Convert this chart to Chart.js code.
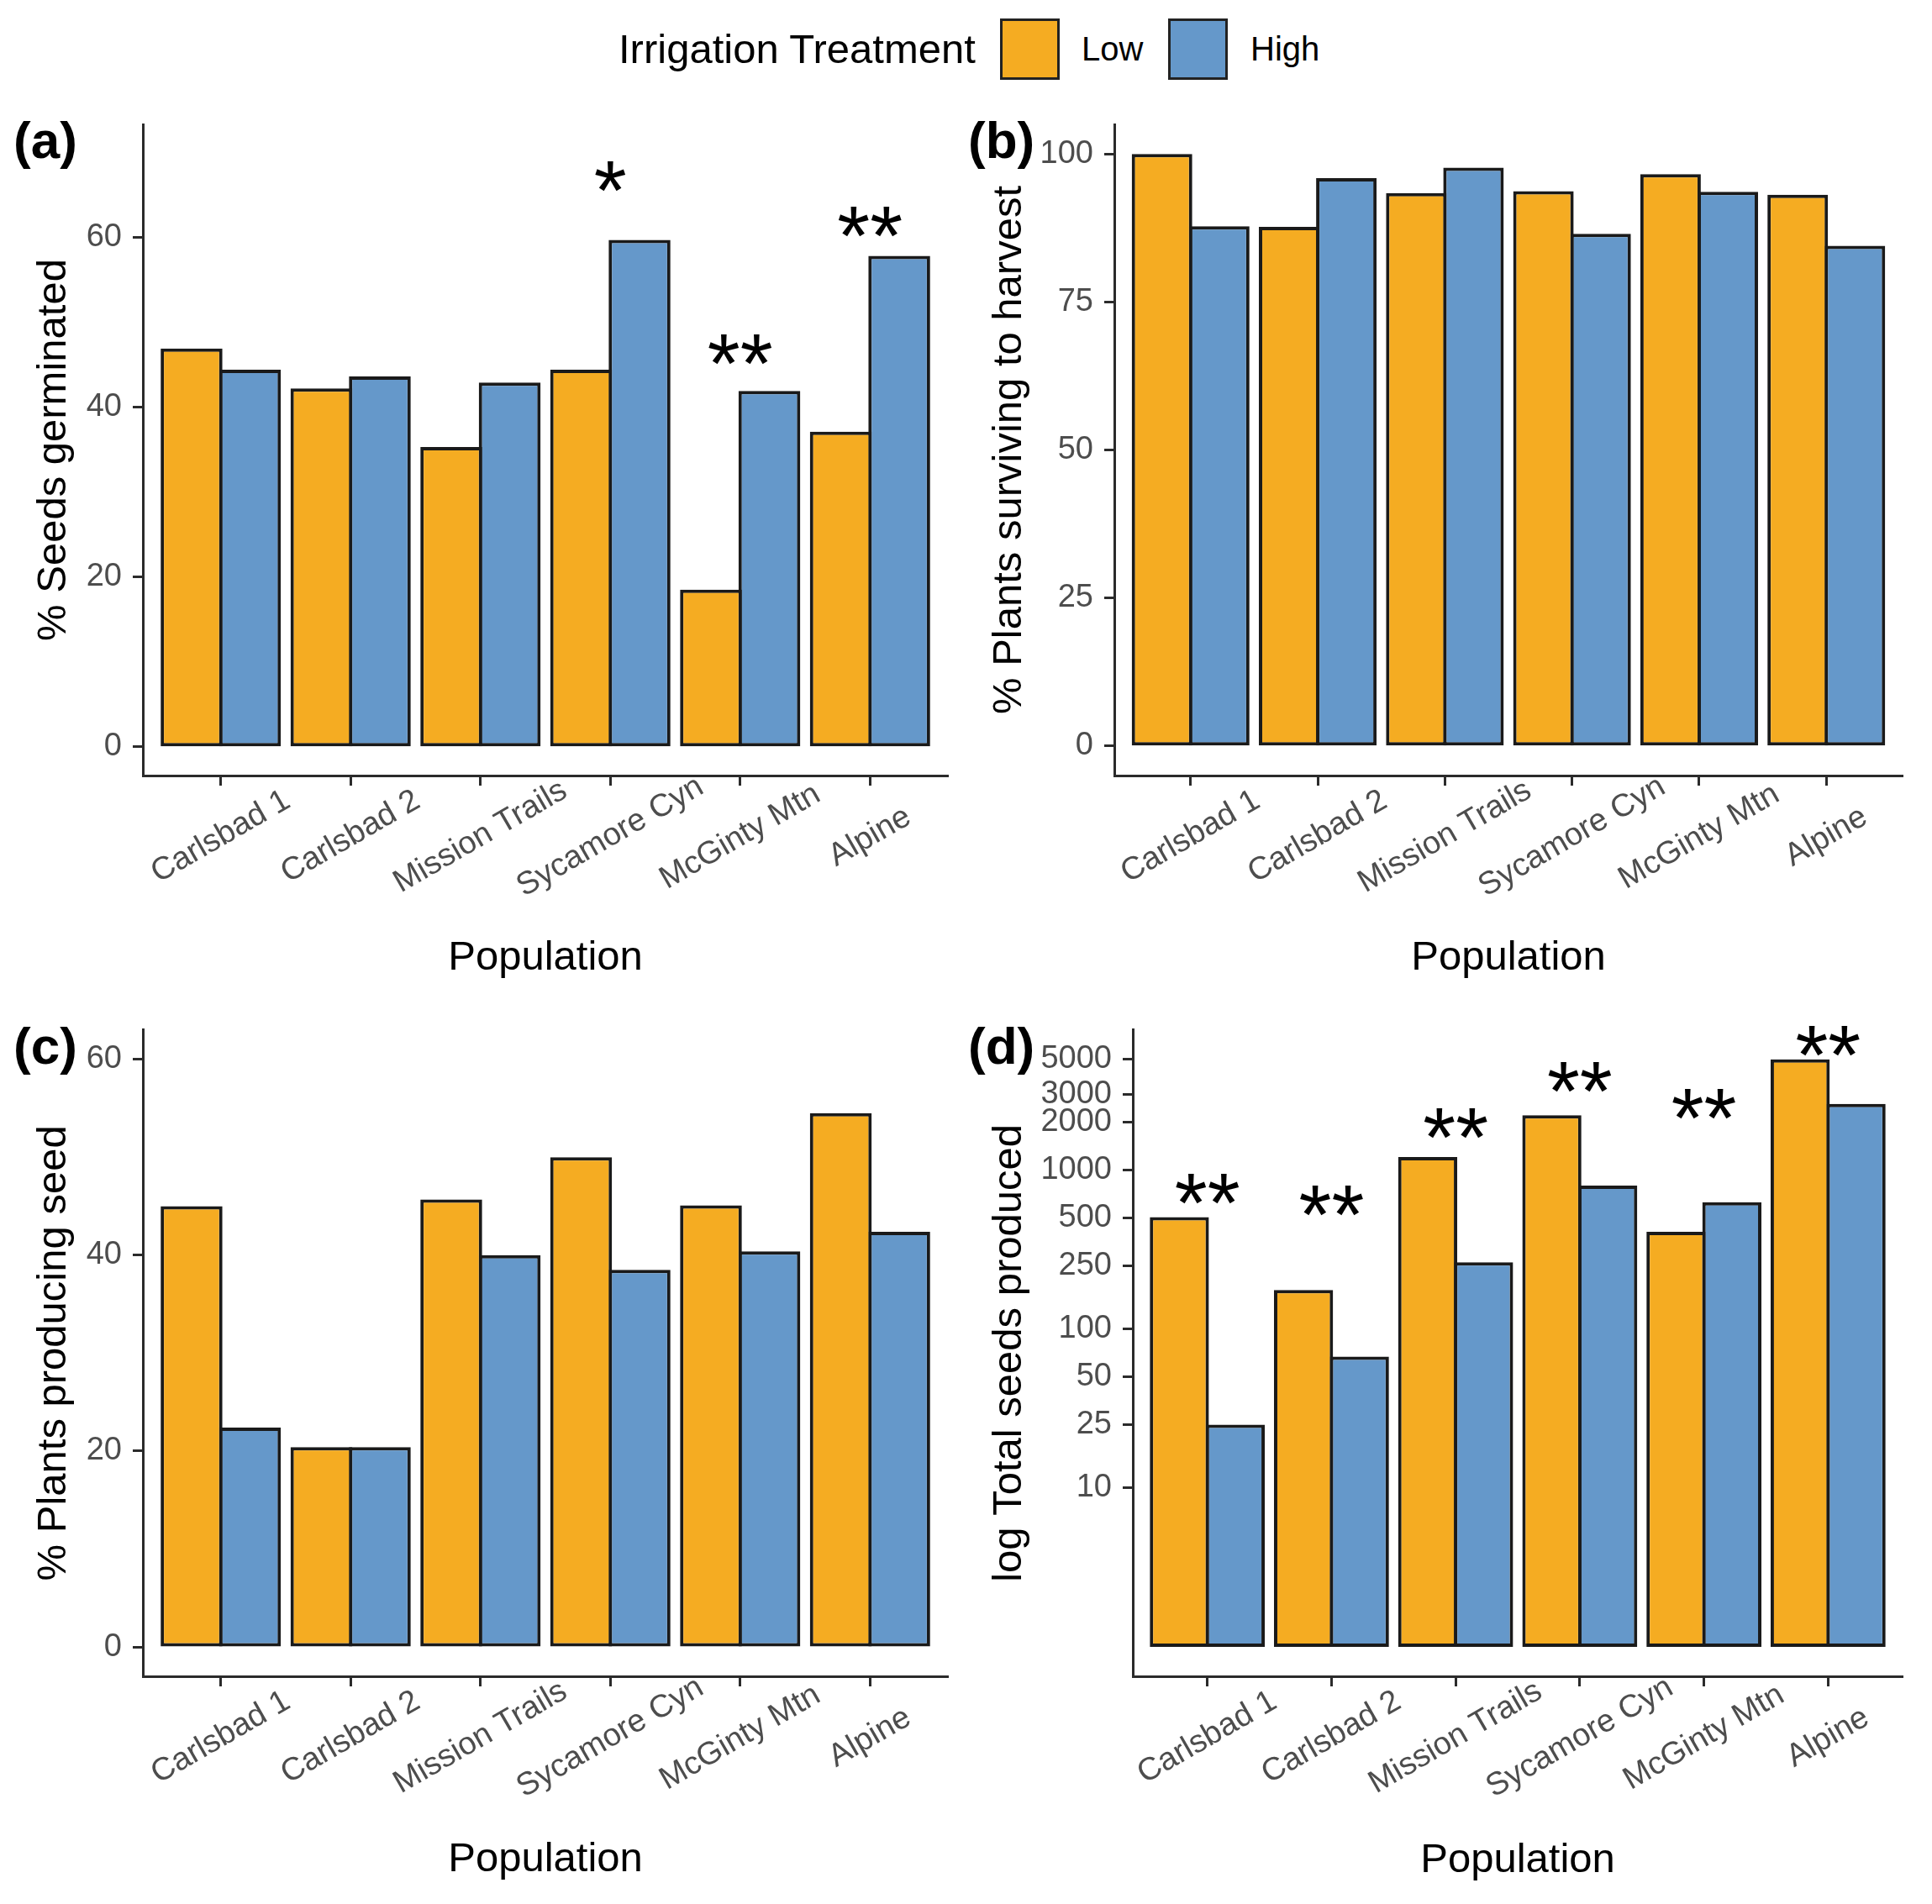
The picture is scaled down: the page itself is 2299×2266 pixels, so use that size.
<!DOCTYPE html>
<html>
<head>
<meta charset="utf-8">
<script src="https://cdn.jsdelivr.net/npm/chart.js@4.4.1/dist/chart.umd.min.js"></script>
<style>
  body { margin: 0; background: #fff; width: 2299px; height: 2266px; position: relative; overflow: hidden;
         font-family: "Liberation Sans", Arial, sans-serif; }
  canvas { position: absolute; }
  .lg { position: absolute; line-height: 1; color: #000; white-space: nowrap; }
  .key { position: absolute; top: 22px; width: 65px; height: 67px; border: 3px solid #222; }
</style>
</head>
<body>
<div class="lg" style="left:736px; top:34px; font-size:49px;">Irrigation Treatment</div>
<div class="key" style="left:1190px; background:#F5AC22;"></div>
<div class="lg" style="left:1287px; top:38px; font-size:40px;">Low</div>
<div class="key" style="left:1390px; background:#6598CA;"></div>
<div class="lg" style="left:1488px; top:38px; font-size:40px;">High</div>

<canvas id="cA" width="1150" height="1090" style="left:0; top:100px;"></canvas>
<canvas id="cB" width="1149" height="1090" style="left:1150px; top:100px;"></canvas>
<canvas id="cC" width="1150" height="1076" style="left:0; top:1190px;"></canvas>
<canvas id="cD" width="1149" height="1076" style="left:1150px; top:1190px;"></canvas>

<script>
// data
var populations = ["Carlsbad 1", "Carlsbad 2", "Mission Trails", "Sycamore Cyn", "McGinty Mtn", "Alpine"]
var treatments = ["Low", "High"]

// (a) % seeds germinated
var germLow  = [46.9, 42.2, 35.3, 44.4, 18.5, 37.1]
var germHigh = [44.4, 43.6, 42.9, 59.7, 41.9, 57.8]
var germTicks = [0, 20, 40, 60]
var germStars = ["", "", "", "*", "**", "**"]
var germStarY = [null, null, null, 67.3, 46.9, 61.9]

// (b) % plants surviving to harvest
var survLow  = [100, 87.7, 93.4, 93.7, 96.6, 93.1]
var survHigh = [87.8, 95.9, 97.7, 86.5, 93.6, 84.5]
var survTicks = [0, 25, 50, 75, 100]

// (c) % plants producing seed
var prodLow  = [45.0, 20.4, 45.7, 50.0, 45.1, 54.5]
var prodHigh = [22.4, 20.4, 40.0, 38.5, 40.4, 42.4]
var prodTicks = [0, 20, 40, 60]

// (d) total seeds produced (log axis)
var seedLow  = [505, 176, 1208, 2210, 408, 4970]
var seedHigh = [25, 67, 263, 797, 628, 2610]
var seedTicks = [10, 25, 50, 100, 250, 500, 1000, 2000, 3000, 5000]
var seedStars = ["**", "**", "**", "**", "**", "**"]
var seedStarY = [773, 645, 1985, 3890, 2645, 6530]

var lowColor = "#F5AC22"
var highColor = "#6598CA"
var axisColor = "#2b2b2b"
var tickGrey = "#4d4d4d"
var fontFam = '"Liberation Sans", Arial, sans-serif'

Chart.defaults.font.family = fontFam

// rotated category labels, significance stars and panel letters
var panelDecor = {
    id: "panelDecor",
    afterDraw: function(chart, args, opts) {
        var ctx = chart.ctx
        var xs = chart.scales.x, ys = chart.scales.y
        var area = chart.chartArea
        ctx.save()
        ctx.fillStyle = tickGrey
        ctx.font = "38px " + fontFam
        ctx.textAlign = "center"
        ctx.textBaseline = "middle"
        populations.forEach(function(name, i) {
            ctx.save()
            ctx.translate(xs.getPixelForValue(i + 1), area.bottom + 73)
            ctx.rotate(-Math.PI / 6)
            ctx.fillText(name, 0, 0)
            ctx.restore()
        })
        ctx.fillStyle = "#000"
        ctx.font = "100px " + fontFam
        ctx.textBaseline = "alphabetic"
        ;(opts.stars || []).forEach(function(s, i) {
            if (!s) return
            ctx.fillText(s, xs.getPixelForValue(i + 1), ys.getPixelForValue(opts.starY[i]) + 52)
        })
        ctx.font = "bold 62px " + fontFam
        ctx.textAlign = "left"
        ctx.fillText(opts.letter, opts.letterX, area.top + 40)
        ctx.restore()
    }
}

function points(values) {
    return values.map(function(v, i) { return {x: i + 1, y: v} })
}

function barSet(label, values, color) {
    return {
        label: label,
        data: points(values),
        backgroundColor: color,
        borderColor: "#1a1a1a",
        borderWidth: 4,
        borderSkipped: false,
        categoryPercentage: 0.9,
        barPercentage: 1.058
    }
}

function makePanel(id, low, high, y, p) {
    y.afterFit = function(s) { s.width = p.yWidth }
    y.ticks = Object.assign({color: tickGrey, font: {size: 38}, padding: 13, autoSkip: false}, y.ticks || {})
    y.grid = {display: true, drawOnChartArea: false, drawTicks: true, tickLength: 12, tickWidth: 3, tickColor: axisColor}
    y.border = {display: true, width: 3, color: axisColor}
    y.title = {display: true, text: p.yTitle, color: "#000", font: {size: 49}, padding: {top: p.yTitlePad, bottom: 0}}

    var base = p.base
    var sets = [barSet(treatments[0], low, lowColor), barSet(treatments[1], high, highColor)]
    if (base !== undefined) sets.forEach(function(d) { d.base = base })

    return new Chart(document.getElementById(id), {
        type: "bar",
        data: {datasets: sets},
        options: {
            responsive: false,
            animation: false,
            devicePixelRatio: 1,
            layout: {padding: p.pad},
            scales: {
                x: {
                    type: "linear",
                    min: 0.4,
                    max: 6.6,
                    offset: false,
                    afterBuildTicks: function(s) { s.ticks = populations.map(function(n, i) { return {value: i + 1} }) },
                    afterFit: function(s) { s.height = p.xHeight },
                    ticks: {display: false},
                    grid: {display: true, offset: false, drawOnChartArea: false, drawTicks: true, tickLength: 12, tickWidth: 3, tickColor: axisColor},
                    border: {display: true, width: 3, color: axisColor},
                    title: {display: true, text: "Population", color: "#000", font: {size: 49}, padding: {top: 0, bottom: p.xTitlePad}}
                },
                y: y
            },
            plugins: {
                legend: {display: false},
                tooltip: {enabled: false},
                panelDecor: {letter: p.letter, letterX: p.letterX, stars: p.stars, starY: p.starY}
            }
        },
        plugins: [panelDecor]
    })
}

function fixedTicks(list) {
    return function(s) { s.ticks = list.map(function(v) { return {value: v} }) }
}

makePanel("cA", germLow, germHigh,
    {type: "linear", min: -3.4, max: 73.3, afterBuildTicks: fixedTicks(germTicks)},
    {pad: {top: 48, right: 22, bottom: 0, left: 0}, yWidth: 170, xHeight: 267, yTitle: "% Seeds germinated",
     yTitlePad: 35, xTitlePad: 20, letter: "(a)", letterX: 16, stars: germStars, starY: germStarY})

makePanel("cB", survLow, survHigh,
    {type: "linear", min: -5, max: 105, afterBuildTicks: fixedTicks(survTicks)},
    {pad: {top: 48, right: 35, bottom: 0, left: 0}, yWidth: 176, xHeight: 267, yTitle: "% Plants surviving to harvest",
     yTitlePad: 22, xTitlePad: 20, letter: "(b)", letterX: 2})

makePanel("cC", prodLow, prodHigh,
    {type: "linear", min: -3, max: 63, afterBuildTicks: fixedTicks(prodTicks)},
    {pad: {top: 30, right: 22, bottom: 0, left: 0}, yWidth: 170, xHeight: 271, yTitle: "% Plants producing seed",
     yTitlePad: 35, xTitlePad: 23, letter: "(c)", letterX: 16})

makePanel("cD", seedLow, seedHigh,
    {type: "logarithmic", min: 0.653, max: 7603, afterBuildTicks: fixedTicks(seedTicks),
     ticks: {callback: function(v) { return String(v) }}},
    {pad: {top: 30, right: 35, bottom: 0, left: 0}, yWidth: 198, xHeight: 271, yTitle: "log Total seeds produced",
     yTitlePad: 22, xTitlePad: 22, letter: "(d)", letterX: 2, base: 1, stars: seedStars, starY: seedStarY})
</script>
</body>
</html>
